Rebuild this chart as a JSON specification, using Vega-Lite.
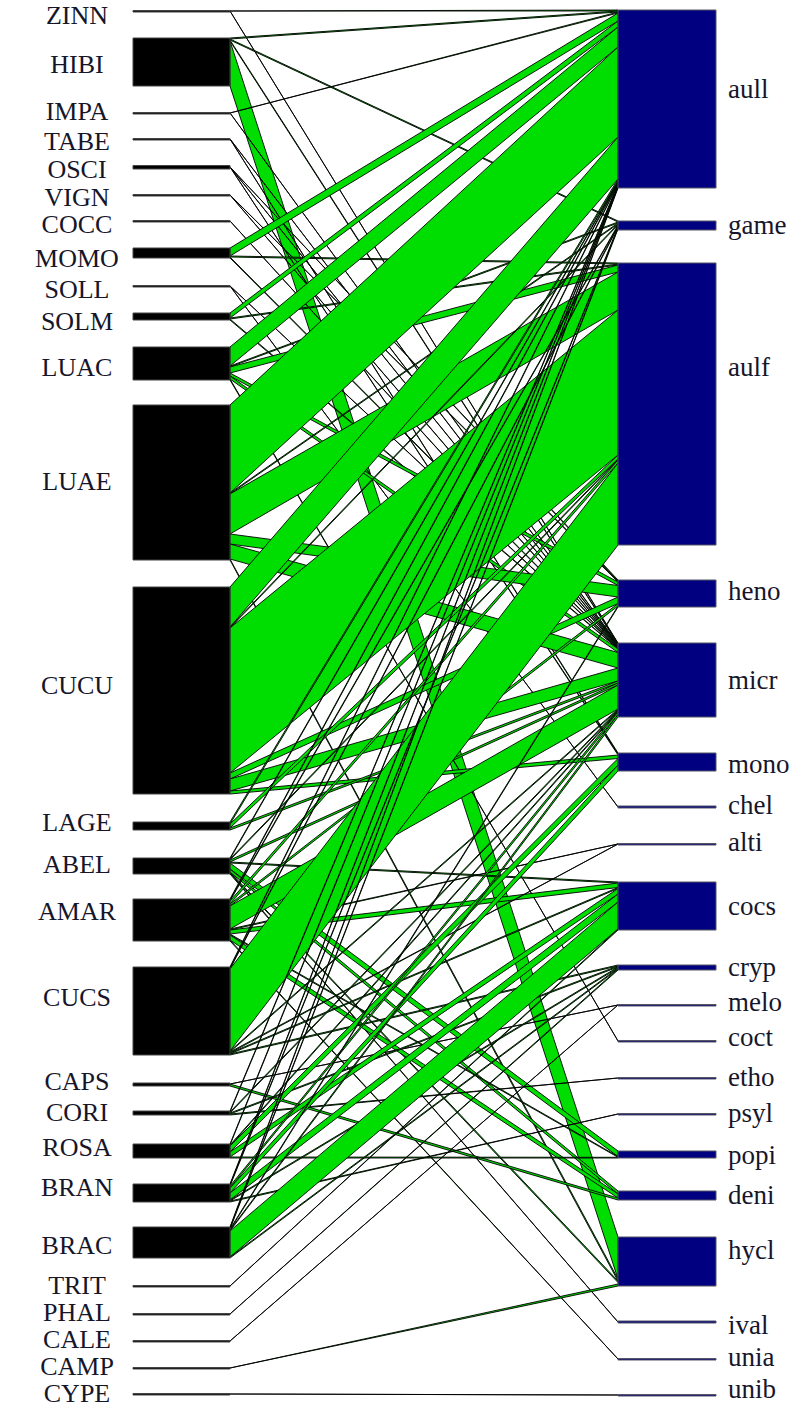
{
  "$schema": "https://vega.github.io/schema/vega-lite/v6.json",
  "width": 806,
  "height": 1407,
  "autosize": {"type": "none"},
  "padding": 0,
  "config": {"view": {"stroke": null}},
  "datasets": {
    "lower": [
      {"sp": "ZINN", "y1": 10.5, "y2": 12, "ly": 16},
      {"sp": "HIBI", "y1": 38, "y2": 86, "ly": 65},
      {"sp": "IMPA", "y1": 112.5, "y2": 114, "ly": 112},
      {"sp": "TABE", "y1": 138.5, "y2": 140, "ly": 142},
      {"sp": "OSCI", "y1": 165.5, "y2": 169, "ly": 170},
      {"sp": "VIGN", "y1": 194.5, "y2": 196, "ly": 198},
      {"sp": "COCC", "y1": 220.5, "y2": 222, "ly": 225},
      {"sp": "MOMO", "y1": 248, "y2": 258, "ly": 259},
      {"sp": "SOLL", "y1": 285.5, "y2": 287, "ly": 290},
      {"sp": "SOLM", "y1": 313, "y2": 320, "ly": 322},
      {"sp": "LUAC", "y1": 347, "y2": 380, "ly": 368},
      {"sp": "LUAE", "y1": 405, "y2": 560, "ly": 482},
      {"sp": "CUCU", "y1": 587, "y2": 794, "ly": 686},
      {"sp": "LAGE", "y1": 822, "y2": 830, "ly": 823},
      {"sp": "ABEL", "y1": 858, "y2": 874, "ly": 865},
      {"sp": "AMAR", "y1": 899, "y2": 941, "ly": 912},
      {"sp": "CUCS", "y1": 967, "y2": 1055, "ly": 998},
      {"sp": "CAPS", "y1": 1083, "y2": 1086, "ly": 1082},
      {"sp": "CORI", "y1": 1111, "y2": 1115, "ly": 1113},
      {"sp": "ROSA", "y1": 1144, "y2": 1158, "ly": 1148},
      {"sp": "BRAN", "y1": 1184, "y2": 1202, "ly": 1188},
      {"sp": "BRAC", "y1": 1227, "y2": 1258, "ly": 1246},
      {"sp": "TRIT", "y1": 1285.5, "y2": 1287, "ly": 1286},
      {"sp": "PHAL", "y1": 1313.5, "y2": 1315, "ly": 1313},
      {"sp": "CALE", "y1": 1340.5, "y2": 1342, "ly": 1340},
      {"sp": "CAMP", "y1": 1367.5, "y2": 1369, "ly": 1367},
      {"sp": "CYPE", "y1": 1393.5, "y2": 1395, "ly": 1394}
    ],
    "higher": [
      {"sp": "aull", "y1": 10, "y2": 188, "ly": 90},
      {"sp": "game", "y1": 221, "y2": 230, "ly": 226},
      {"sp": "aulf", "y1": 263, "y2": 545, "ly": 368},
      {"sp": "heno", "y1": 580, "y2": 607, "ly": 592},
      {"sp": "micr", "y1": 643, "y2": 717, "ly": 681},
      {"sp": "mono", "y1": 753, "y2": 771, "ly": 765},
      {"sp": "chel", "y1": 806, "y2": 808, "ly": 806},
      {"sp": "alti", "y1": 843.5, "y2": 845, "ly": 843},
      {"sp": "cocs", "y1": 882, "y2": 930, "ly": 907},
      {"sp": "cryp", "y1": 965, "y2": 970, "ly": 968},
      {"sp": "melo", "y1": 1004.5, "y2": 1006, "ly": 1003},
      {"sp": "coct", "y1": 1040.5, "y2": 1042, "ly": 1038},
      {"sp": "etho", "y1": 1077.5, "y2": 1079, "ly": 1078},
      {"sp": "psyl", "y1": 1113.5, "y2": 1115, "ly": 1114},
      {"sp": "popi", "y1": 1151, "y2": 1158, "ly": 1156},
      {"sp": "deni", "y1": 1191, "y2": 1200, "ly": 1196},
      {"sp": "hycl", "y1": 1237, "y2": 1286, "ly": 1251},
      {"sp": "ival", "y1": 1321, "y2": 1323, "ly": 1326},
      {"sp": "unia", "y1": 1358.5, "y2": 1360, "ly": 1358},
      {"sp": "unib", "y1": 1394.5, "y2": 1396, "ly": 1390}
    ],
    "links": [
      {"lo": "ZINN", "hi": "aull", "l": [11, 11], "h": [10, 11]},
      {"lo": "ZINN", "hi": "micr", "l": [11, 11], "h": [643, 643.6]},
      {"lo": "HIBI", "hi": "aull", "l": [38, 39], "h": [11, 12]},
      {"lo": "HIBI", "hi": "game", "l": [39, 40], "h": [221, 222]},
      {"lo": "HIBI", "hi": "micr", "l": [40, 41], "h": [643.6, 644.2]},
      {"lo": "HIBI", "hi": "hycl", "l": [41, 86], "h": [1237, 1279]},
      {"lo": "IMPA", "hi": "aull", "l": [113, 113], "h": [12, 13]},
      {"lo": "IMPA", "hi": "micr", "l": [113, 113], "h": [644.2, 644.8]},
      {"lo": "TABE", "hi": "micr", "l": [139, 139], "h": [644.8, 645.4]},
      {"lo": "TABE", "hi": "mono", "l": [139, 139], "h": [753, 754]},
      {"lo": "OSCI", "hi": "heno", "l": [167, 167], "h": [580, 581]},
      {"lo": "OSCI", "hi": "micr", "l": [167, 167], "h": [645.4, 646]},
      {"lo": "OSCI", "hi": "mono", "l": [167, 167], "h": [754, 755]},
      {"lo": "VIGN", "hi": "heno", "l": [195, 195], "h": [581, 582]},
      {"lo": "VIGN", "hi": "micr", "l": [195, 195], "h": [646, 646.6]},
      {"lo": "COCC", "hi": "micr", "l": [221, 221], "h": [646.6, 647.2]},
      {"lo": "MOMO", "hi": "aull", "l": [248, 256], "h": [13, 21]},
      {"lo": "MOMO", "hi": "aulf", "l": [256, 257], "h": [263, 264]},
      {"lo": "MOMO", "hi": "micr", "l": [257, 258], "h": [647.2, 647.8]},
      {"lo": "SOLL", "hi": "micr", "l": [286, 286], "h": [647.8, 648.4]},
      {"lo": "SOLL", "hi": "chel", "l": [286, 286], "h": [807, 807]},
      {"lo": "SOLM", "hi": "aull", "l": [313, 318], "h": [21, 27]},
      {"lo": "SOLM", "hi": "aulf", "l": [318, 319], "h": [264, 265]},
      {"lo": "SOLM", "hi": "micr", "l": [319, 320], "h": [648.4, 649]},
      {"lo": "LUAC", "hi": "aull", "l": [347, 366], "h": [27, 47]},
      {"lo": "LUAC", "hi": "game", "l": [366, 367], "h": [222, 223]},
      {"lo": "LUAC", "hi": "aulf", "l": [367, 373], "h": [265, 272]},
      {"lo": "LUAC", "hi": "heno", "l": [373, 376], "h": [582, 585.5]},
      {"lo": "LUAC", "hi": "micr", "l": [376, 379], "h": [649, 652.5]},
      {"lo": "LUAC", "hi": "coct", "l": [379, 380], "h": [1041, 1041]},
      {"lo": "LUAE", "hi": "aull", "l": [405, 493], "h": [47, 137]},
      {"lo": "LUAE", "hi": "game", "l": [493, 494], "h": [223, 224]},
      {"lo": "LUAE", "hi": "aulf", "l": [494, 534], "h": [272, 310]},
      {"lo": "LUAE", "hi": "heno", "l": [534, 544], "h": [585.5, 597]},
      {"lo": "LUAE", "hi": "micr", "l": [544, 559], "h": [652.5, 668]},
      {"lo": "LUAE", "hi": "hycl", "l": [559, 560], "h": [1279, 1281]},
      {"lo": "CUCU", "hi": "aull", "l": [587, 627], "h": [137, 179]},
      {"lo": "CUCU", "hi": "game", "l": [627, 628], "h": [224, 225]},
      {"lo": "CUCU", "hi": "aulf", "l": [628, 773], "h": [310, 455]},
      {"lo": "CUCU", "hi": "heno", "l": [773, 779], "h": [597, 603.5]},
      {"lo": "CUCU", "hi": "micr", "l": [779, 791], "h": [668, 681]},
      {"lo": "CUCU", "hi": "mono", "l": [791, 794], "h": [755, 758.5]},
      {"lo": "LAGE", "hi": "aull", "l": [822, 824], "h": [179, 181]},
      {"lo": "LAGE", "hi": "aulf", "l": [824, 828], "h": [455, 459]},
      {"lo": "LAGE", "hi": "micr", "l": [828, 830], "h": [681, 683]},
      {"lo": "ABEL", "hi": "aull", "l": [858, 859], "h": [181, 182]},
      {"lo": "ABEL", "hi": "aulf", "l": [859, 860], "h": [459, 460]},
      {"lo": "ABEL", "hi": "micr", "l": [860, 862], "h": [683, 685]},
      {"lo": "ABEL", "hi": "cocs", "l": [862, 863], "h": [882, 883]},
      {"lo": "ABEL", "hi": "popi", "l": [863, 869], "h": [1151, 1156.5]},
      {"lo": "ABEL", "hi": "deni", "l": [869, 872], "h": [1191, 1194]},
      {"lo": "ABEL", "hi": "hycl", "l": [872, 873], "h": [1281, 1282.5]},
      {"lo": "ABEL", "hi": "ival", "l": [873, 874], "h": [1322, 1322]},
      {"lo": "AMAR", "hi": "aull", "l": [899, 900], "h": [182, 183]},
      {"lo": "AMAR", "hi": "game", "l": [900, 901], "h": [225, 226]},
      {"lo": "AMAR", "hi": "aulf", "l": [901, 904], "h": [460, 463]},
      {"lo": "AMAR", "hi": "heno", "l": [904, 906], "h": [603.5, 606]},
      {"lo": "AMAR", "hi": "micr", "l": [906, 929], "h": [685, 709]},
      {"lo": "AMAR", "hi": "alti", "l": [929, 930], "h": [844, 844]},
      {"lo": "AMAR", "hi": "cocs", "l": [930, 934], "h": [883, 887.5]},
      {"lo": "AMAR", "hi": "popi", "l": [934, 935], "h": [1156.5, 1157.3]},
      {"lo": "AMAR", "hi": "deni", "l": [935, 940], "h": [1194, 1198]},
      {"lo": "AMAR", "hi": "unia", "l": [940, 941], "h": [1359, 1359]},
      {"lo": "CUCS", "hi": "aull", "l": [967, 968], "h": [183, 184]},
      {"lo": "CUCS", "hi": "game", "l": [968, 969], "h": [226, 227]},
      {"lo": "CUCS", "hi": "aulf", "l": [969, 1051], "h": [463, 545]},
      {"lo": "CUCS", "hi": "micr", "l": [1051, 1052], "h": [709, 710]},
      {"lo": "CUCS", "hi": "alti", "l": [1052, 1053], "h": [844, 844]},
      {"lo": "CUCS", "hi": "cocs", "l": [1053, 1054], "h": [887.5, 888.5]},
      {"lo": "CUCS", "hi": "cryp", "l": [1054, 1055], "h": [965, 966]},
      {"lo": "CAPS", "hi": "melo", "l": [1084, 1084], "h": [1005, 1005]},
      {"lo": "CAPS", "hi": "deni", "l": [1084, 1086], "h": [1198, 1200]},
      {"lo": "CORI", "hi": "aull", "l": [1111, 1112], "h": [184, 185]},
      {"lo": "CORI", "hi": "micr", "l": [1112, 1113], "h": [710, 711]},
      {"lo": "CORI", "hi": "cryp", "l": [1113, 1114], "h": [966, 967]},
      {"lo": "CORI", "hi": "etho", "l": [1114, 1115], "h": [1078, 1078]},
      {"lo": "ROSA", "hi": "aull", "l": [1144, 1145], "h": [185, 186]},
      {"lo": "ROSA", "hi": "micr", "l": [1145, 1146], "h": [711, 712]},
      {"lo": "ROSA", "hi": "mono", "l": [1146, 1152], "h": [758.5, 765]},
      {"lo": "ROSA", "hi": "cocs", "l": [1152, 1157], "h": [888.5, 894]},
      {"lo": "ROSA", "hi": "popi", "l": [1157, 1158], "h": [1157.3, 1158]},
      {"lo": "BRAN", "hi": "aull", "l": [1184, 1185], "h": [186, 187]},
      {"lo": "BRAN", "hi": "game", "l": [1185, 1186], "h": [227, 228]},
      {"lo": "BRAN", "hi": "micr", "l": [1186, 1188], "h": [712, 714.5]},
      {"lo": "BRAN", "hi": "mono", "l": [1188, 1193], "h": [765, 771]},
      {"lo": "BRAN", "hi": "cocs", "l": [1193, 1200], "h": [894, 902]},
      {"lo": "BRAN", "hi": "cryp", "l": [1200, 1201], "h": [967, 968]},
      {"lo": "BRAN", "hi": "psyl", "l": [1201, 1202], "h": [1114, 1114]},
      {"lo": "BRAC", "hi": "aull", "l": [1227, 1228], "h": [187, 188]},
      {"lo": "BRAC", "hi": "game", "l": [1228, 1229], "h": [228, 229]},
      {"lo": "BRAC", "hi": "heno", "l": [1229, 1230], "h": [606, 607]},
      {"lo": "BRAC", "hi": "micr", "l": [1230, 1231], "h": [714.5, 717]},
      {"lo": "BRAC", "hi": "cocs", "l": [1231, 1257], "h": [902, 929]},
      {"lo": "BRAC", "hi": "cryp", "l": [1257, 1258], "h": [968, 969]},
      {"lo": "TRIT", "hi": "cocs", "l": [1286, 1286], "h": [929, 930]},
      {"lo": "PHAL", "hi": "cryp", "l": [1314, 1314], "h": [969, 970]},
      {"lo": "CALE", "hi": "melo", "l": [1341, 1341], "h": [1005, 1005]},
      {"lo": "CAMP", "hi": "hycl", "l": [1368, 1368], "h": [1284, 1286]},
      {"lo": "CYPE", "hi": "unib", "l": [1394, 1394], "h": [1395, 1395]}
    ]
  },
  "resolve": {"scale": {"x": "independent"}},
  "layer": [
    {
      "data": {"name": "links"},
      "transform": [{"fold": ["l", "h"], "as": ["end", "seg"]}],
      "mark": {"type": "area", "fill": "#00dd00", "fillOpacity": 1, "stroke": "#000000", "strokeWidth": 1, "strokeOpacity": 0.9},
      "encoding": {
        "x": {"field": "end", "type": "ordinal", "scale": {"type": "point", "domain": ["l", "h"], "range": [230, 618], "padding": 0}, "axis": null},
        "y": {"field": "seg[0]", "type": "quantitative", "stack": null, "scale": {"domain": [0, 1407], "reverse": true, "nice": false, "zero": false}, "axis": null},
        "y2": {"field": "seg[1]"},
        "detail": [{"field": "lo"}, {"field": "hi"}]
      }
    },
    {
      "data": {"name": "lower"},
      "mark": {"type": "rect", "fill": "#000000", "stroke": "#444444", "strokeWidth": 1},
      "encoding": {
        "x": {"datum": 133, "type": "quantitative", "scale": {"domain": [0, 806], "nice": false, "zero": false}, "axis": null},
        "x2": {"datum": 230},
        "y": {"field": "y1", "type": "quantitative"},
        "y2": {"field": "y2"}
      }
    },
    {
      "data": {"name": "higher"},
      "mark": {"type": "rect", "fill": "#000080", "stroke": "#555566", "strokeWidth": 1},
      "encoding": {
        "x": {"datum": 618, "type": "quantitative", "scale": {"domain": [0, 806], "nice": false, "zero": false}, "axis": null},
        "x2": {"datum": 716},
        "y": {"field": "y1", "type": "quantitative"},
        "y2": {"field": "y2"}
      }
    },
    {
      "data": {"name": "lower"},
      "mark": {"type": "text", "align": "center", "baseline": "middle", "font": "Liberation Serif", "fontSize": 26, "fill": "#16162a"},
      "encoding": {
        "x": {"datum": 77, "type": "quantitative", "scale": {"domain": [0, 806], "nice": false, "zero": false}, "axis": null},
        "y": {"field": "ly", "type": "quantitative"},
        "text": {"field": "sp"}
      }
    },
    {
      "data": {"name": "higher"},
      "mark": {"type": "text", "align": "left", "baseline": "middle", "font": "Liberation Serif", "fontSize": 27, "fill": "#16162a"},
      "encoding": {
        "x": {"datum": 728, "type": "quantitative", "scale": {"domain": [0, 806], "nice": false, "zero": false}, "axis": null},
        "y": {"field": "ly", "type": "quantitative"},
        "text": {"field": "sp"}
      }
    }
  ]
}
